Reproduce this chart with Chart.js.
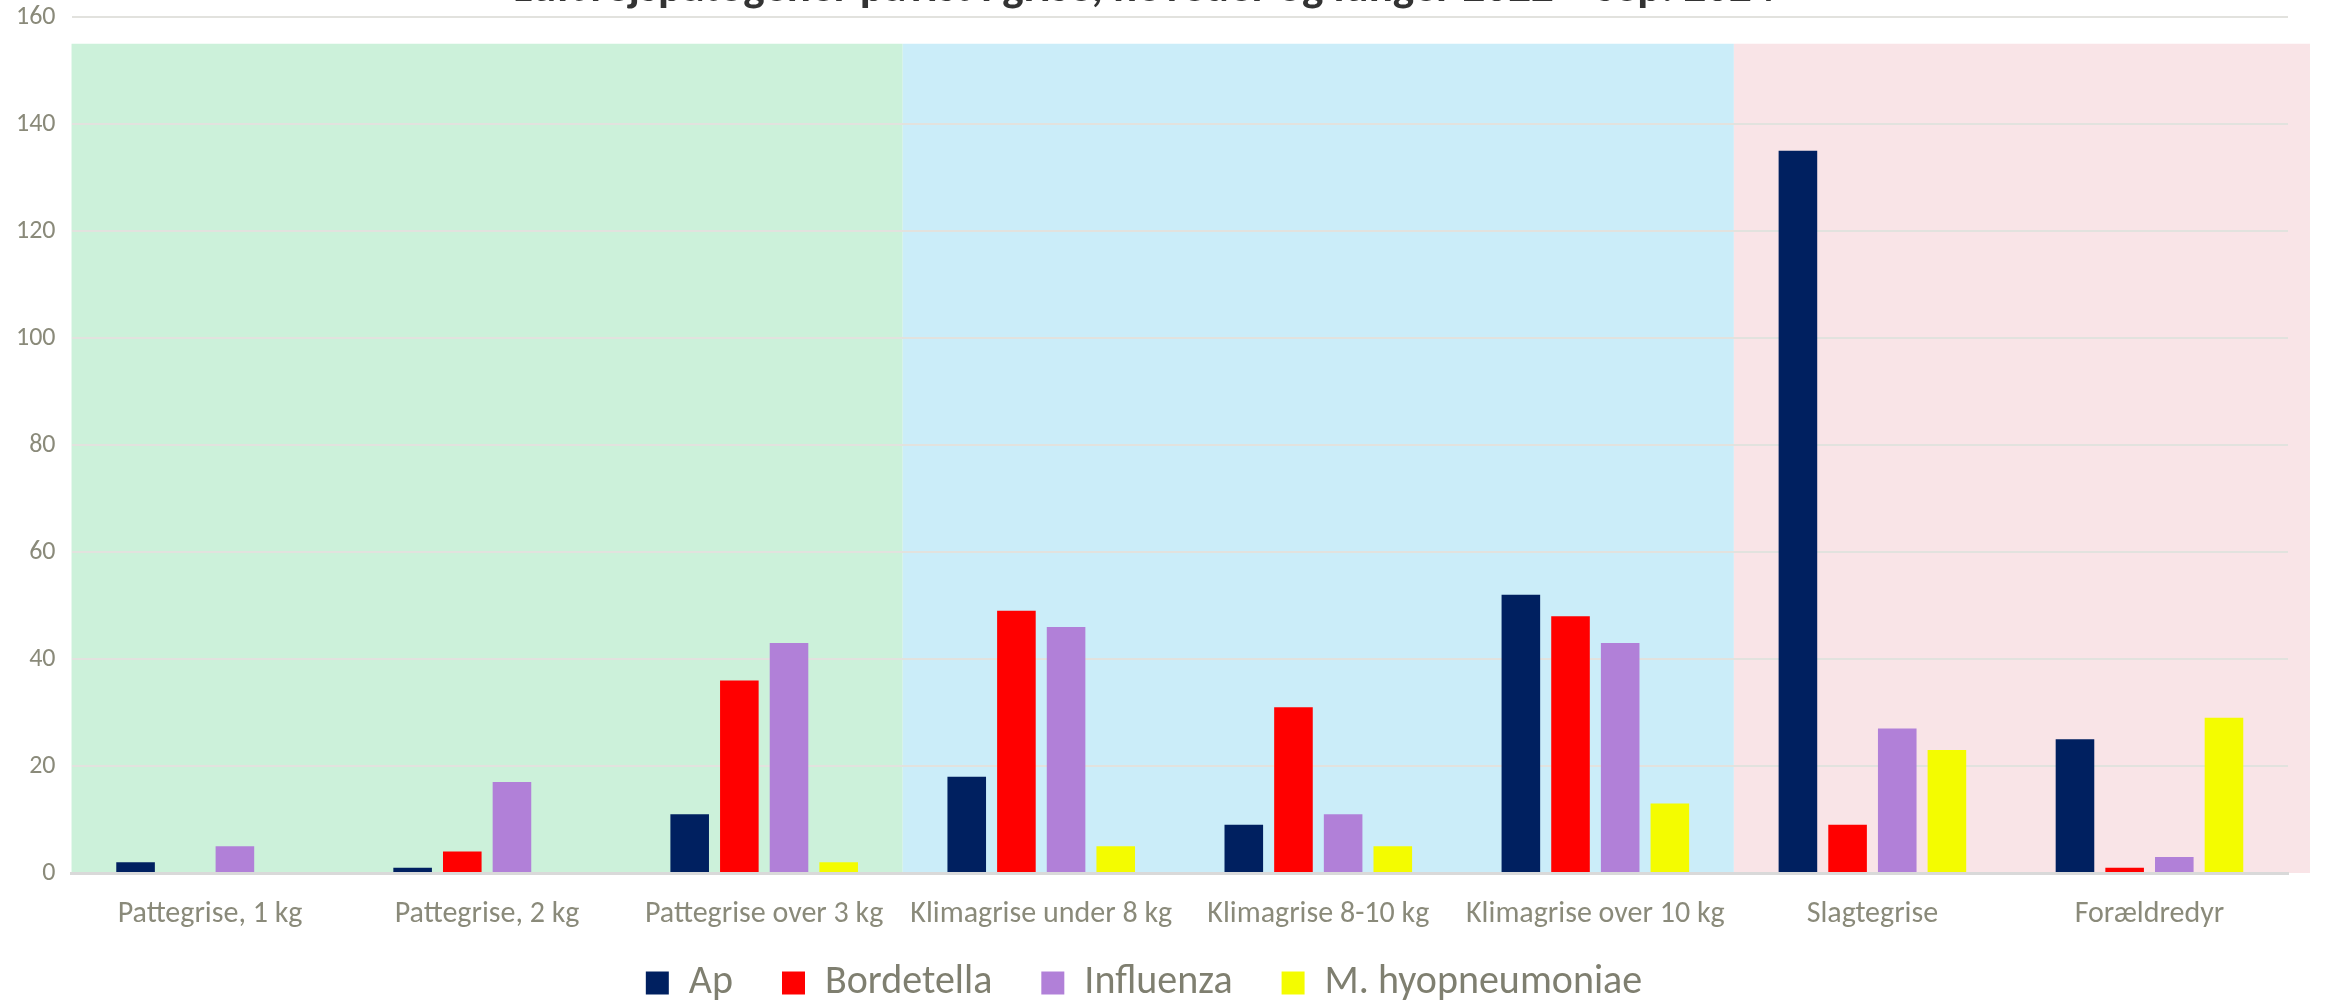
<!DOCTYPE html>
<html>
<head>
<meta charset="utf-8">
<script src="https://cdn.jsdelivr.net/npm/chart.js@4.4.1/dist/chart.umd.min.js"></script>
<style>
  html, body { margin: 0; padding: 0; background: #fff; overflow: hidden; }
  #wrap { position: absolute; left: 0; top: -37px; width: 2325px; height: 1052px; }
</style>
</head>
<body>
<div id="wrap"><canvas id="chart"></canvas></div>
<script>
const categories = [
  'Pattegrise, 1 kg',
  'Pattegrise, 2 kg',
  'Pattegrise over 3 kg',
  'Klimagrise under 8 kg',
  'Klimagrise 8-10 kg',
  'Klimagrise over 10 kg',
  'Slagtegrise',
  'Forældredyr'
];
const apValues = [2, 1, 11, 18, 9, 52, 135, 25];
const bordetellaValues = [0, 4, 36, 49, 31, 48, 9, 1];
const influenzaValues = [5, 17, 43, 46, 11, 43, 27, 3];
const mhyoValues = [0, 0, 2, 5, 5, 13, 23, 29];
const yTicks = [0, 20, 40, 60, 80, 100, 120, 140, 160];

// shaded groups behind the bars: first/last category index and top value
const groupStart = [0, 3, 6];
const groupEnd = [2, 5, 7];
const groupTop = 155;
const groupColors = ['#ccf1da', '#cbedf9', '#f9e4e7'];

const titleText = 'Luftvejspatogener påvist i grise, hoveder og lunger 2022 – sep. 2024';
const fontFamily = 'Carlito, Lato, "Open Sans", sans-serif';

const groupShading = {
  id: 'groupShading',
  afterLayout(chart) {
    // the x labels hang below the (shortened) axis box, so don't clip them
    const x = chart.scales.x;
    x.bottom = x.top + 80;
  },
  beforeDraw(chart) {
    const x = chart.scales.x, y = chart.scales.y, ctx = chart.ctx;
    const half = (x.getPixelForValue(1) - x.getPixelForValue(0)) / 2;
    const top = y.getPixelForValue(groupTop), bottom = y.getPixelForValue(0);
    ctx.save();
    for (let i = 0; i < groupStart.length; i++) {
      let left = x.getPixelForValue(groupStart[i]) - half;
      let right = x.getPixelForValue(groupEnd[i]) + half;
      if (i === groupStart.length - 1) right += 22;
      ctx.fillStyle = groupColors[i];
      ctx.fillRect(left, top, right - left, bottom - top);
    }
    ctx.restore();
  }
};

const data = {
  labels: categories,
  datasets: [
    { label: 'Ap', data: apValues, backgroundColor: '#002060' },
    { label: 'Bordetella', data: bordetellaValues, backgroundColor: '#ff0000' },
    { label: 'Influenza', data: influenzaValues, backgroundColor: '#b180d8' },
    { label: 'M. hyopneumoniae', data: mhyoValues, backgroundColor: '#f4fc00' }
  ]
};

new Chart(document.getElementById('chart'), {
  type: 'bar',
  data: data,
  plugins: [groupShading],
  options: {
    responsive: true,
    maintainAspectRatio: false,
    animation: false,
    categoryPercentage: 0.717,
    barPercentage: 0.777,
    layout: { padding: { left: 0, right: 37, bottom: 2 } },
    plugins: {
      title: {
        display: true,
        text: titleText,
        color: '#333333',
        font: { family: fontFamily, size: 45, weight: 'bold' },
        padding: { top: 0, bottom: 0 }
      },
      legend: {
        position: 'bottom',
        labels: {
          color: '#7f7f70',
          font: { family: fontFamily, size: 40 },
          boxWidth: 23,
          boxHeight: 23,
          padding: 49
        }
      },
      tooltip: { enabled: false }
    },
    scales: {
      x: {
        grid: { display: false },
        border: { color: '#d9d9d9', width: 3 },
        ticks: {
          color: '#8a8a7a',
          font: { family: fontFamily, size: 30 },
          padding: 15,
          maxRotation: 0
        },
        afterFit(axis) { axis.height = 41; }
      },
      y: {
        min: 0,
        max: 160,
        afterBuildTicks(axis) { axis.ticks = yTicks.map(v => ({ value: v })); },
        grid: { color: '#e2e2de', lineWidth: 2, drawTicks: false },
        border: { display: false },
        ticks: {
          color: '#8a8a7a',
          font: { family: fontFamily, size: 26 },
          padding: 16
        }
      }
    }
  }
});
</script>
</body>
</html>
